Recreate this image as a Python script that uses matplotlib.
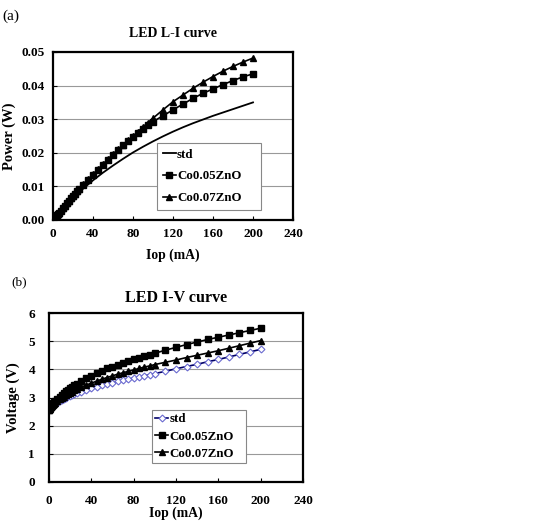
import matplotlib
matplotlib.use("Agg")
import matplotlib.pyplot as plt

plt.rcParams['font.family'] = ['Liberation Serif', 'DejaVu Serif']
plt.rcParams['font.weight'] = 'bold'

# currents (mA) for marked series
iop = [0, 1, 2, 3, 4, 5, 6, 8, 10, 12, 14, 16, 18, 20, 22, 24, 26, 30, 35, 40,
       45, 50, 55, 60, 65, 70, 75, 80, 85, 90, 95, 100, 110, 120, 130, 140,
       150, 160, 170, 180, 190, 200]

# (a) L-I data, power (W)
li_std_iop = [0, 10, 20, 30, 40, 50, 60, 70, 80, 90, 100, 110, 120, 130, 140,
              150, 160, 170, 180, 190, 200]
li_std = [0, 0.0034, 0.0065, 0.0093, 0.0118, 0.0141, 0.0162, 0.0182, 0.0201,
          0.0218, 0.0234, 0.0249, 0.0263, 0.0276, 0.0288, 0.0299, 0.0310,
          0.0320, 0.0330, 0.0340, 0.0350]
li_co005 = [0, 0.0003, 0.0007, 0.0010, 0.0014, 0.0018, 0.0021, 0.0028, 0.0036,
            0.0043, 0.0050, 0.0057, 0.0064, 0.0071, 0.0078, 0.0085, 0.0091,
            0.0105, 0.0120, 0.0135, 0.0150, 0.0165, 0.0180, 0.0194, 0.0208,
            0.0222, 0.0235, 0.0248, 0.0260, 0.0272, 0.0283, 0.0293, 0.0310,
            0.0328, 0.0345, 0.0362, 0.0377, 0.0390, 0.0403, 0.0415, 0.0426,
            0.0435]
li_co007 = [0, 0.0003, 0.0007, 0.0011, 0.0014, 0.0018, 0.0022, 0.0029, 0.0036,
            0.0043, 0.0050, 0.0057, 0.0064, 0.0071, 0.0078, 0.0085, 0.0092,
            0.0106, 0.0121, 0.0136, 0.0151, 0.0166, 0.0181, 0.0196, 0.0210,
            0.0224, 0.0237, 0.0250, 0.0263, 0.0277, 0.0290, 0.0303, 0.0328,
            0.0352, 0.0372, 0.0392, 0.0410, 0.0427, 0.0443, 0.0457, 0.0470,
            0.0482]

# (b) I-V data, voltage (V)
iv_std = [2.55, 2.59, 2.63, 2.67, 2.70, 2.73, 2.76, 2.82, 2.87, 2.92, 2.96,
          3.00, 3.04, 3.07, 3.10, 3.13, 3.16, 3.21, 3.27, 3.33, 3.38, 3.43,
          3.48, 3.52, 3.57, 3.61, 3.65, 3.69, 3.73, 3.77, 3.81, 3.85, 3.93,
          4.02, 4.10, 4.18, 4.27, 4.35, 4.44, 4.53, 4.62, 4.71]
iv_co005 = [2.55, 2.62, 2.68, 2.74, 2.79, 2.84, 2.88, 2.96, 3.03, 3.10, 3.16,
            3.22, 3.28, 3.33, 3.38, 3.43, 3.48, 3.58, 3.68, 3.78, 3.87, 3.95,
            4.03, 4.10, 4.17, 4.24, 4.30, 4.36, 4.42, 4.47, 4.52, 4.57, 4.68,
            4.78, 4.88, 4.97, 5.06, 5.14, 5.22, 5.30, 5.38, 5.46]
iv_co007 = [2.55, 2.60, 2.65, 2.69, 2.73, 2.77, 2.80, 2.87, 2.93, 2.98, 3.03,
            3.08, 3.13, 3.17, 3.21, 3.25, 3.29, 3.36, 3.44, 3.51, 3.58, 3.65,
            3.71, 3.77, 3.83, 3.88, 3.93, 3.98, 4.03, 4.08, 4.12, 4.17, 4.25,
            4.33, 4.42, 4.50, 4.58, 4.66, 4.75, 4.84, 4.93, 5.02]

xticks = [0, 40, 80, 120, 160, 200, 240]


def style_axes(ax, yticks, yfmt, xpad, ypad, size):
    ax.set_xlim(0, 240)
    ax.set_xticks(xticks)
    ax.set_ylim(yticks[0], yticks[-1])
    ax.set_yticks(yticks)
    ax.set_yticklabels([yfmt.format(v) for v in yticks])
    ax.yaxis.grid(True, color='#999999', lw=0.8)
    ax.set_axisbelow(True)
    for s in ax.spines.values():
        s.set_linewidth(1.6)
    ax.tick_params(direction='in', length=3, width=0.8, labelsize=size)
    ax.tick_params(axis='x', pad=xpad)
    ax.tick_params(axis='y', pad=ypad)
    for lab in ax.get_xticklabels() + ax.get_yticklabels():
        lab.set_fontweight('bold')


fig = plt.figure(figsize=(5.56, 5.21), dpi=100)

# (a) L-I curve
ax1 = fig.add_axes([53 / 556, 301 / 521, 240 / 556, 168 / 521])
ax1.plot(li_std_iop, li_std, color='black', lw=1.3, label='std')
ax1.plot(iop, li_co005, color='black', lw=1.2, marker='s', ms=4.2,
         label='Co0.05ZnO')
ax1.plot(iop, li_co007, color='black', lw=1.2, marker='^', ms=4.8,
         label='Co0.07ZnO')
style_axes(ax1, [0, 0.01, 0.02, 0.03, 0.04, 0.05], '{:.2f}', 6, 6, 9.5)
ax1.set_xlabel('Iop (mA)', fontsize=9.8, fontweight='bold', labelpad=6)
ax1.set_ylabel('Power (W)', fontsize=10.5, fontweight='bold', labelpad=4)
ax1.set_title('LED L-I curve', fontsize=10, fontweight='bold', pad=11)
leg1 = ax1.legend(loc='lower left',
                  bbox_to_anchor=(104 / 240, 10 / 168, 104 / 240, 65 / 168),
                  mode='expand', borderaxespad=0, fontsize=9.3,
                  handlelength=1.0, handletextpad=0.1, borderpad=0.45,
                  labelspacing=0.75, fancybox=False, edgecolor='#888888',
                  framealpha=1)
leg1.get_frame().set_linewidth(0.8)

# (b) I-V curve
ax2 = fig.add_axes([49 / 556, 39 / 521, 254 / 556, 169 / 521])
ax2.plot(iop, iv_std, color='#000066', lw=1.2, marker='D', ms=3.5,
         mfc='white', mec='#6a6ad0', mew=0.8, label='std')
ax2.plot(iop, iv_co005, color='black', lw=1.2, marker='s', ms=4.5,
         label='Co0.05ZnO')
ax2.plot(iop, iv_co007, color='black', lw=1.2, marker='^', ms=4.8,
         label='Co0.07ZnO')
style_axes(ax2, [0, 1, 2, 3, 4, 5, 6], '{:d}', 9, 10, 9.5)
ax2.set_xlabel('Iop (mA)', fontsize=9.8, fontweight='bold', labelpad=0)
ax2.set_ylabel('Voltage (V)', fontsize=10.5, fontweight='bold', labelpad=6)
ax2.set_title('LED I-V curve', fontsize=11.5, fontweight='bold', pad=8)
leg2 = ax2.legend(loc='lower left',
                  bbox_to_anchor=(103 / 254, 19 / 169, 94 / 254, 54 / 169),
                  mode='expand', borderaxespad=0, fontsize=9.3,
                  handlelength=1.0, handletextpad=0.1, borderpad=0.25,
                  labelspacing=0.4, fancybox=False, edgecolor='#888888',
                  framealpha=1)
leg2.get_frame().set_linewidth(0.8)

fig.text(2 / 556, 1 - 16 / 521, '(a)', fontsize=11, fontweight='normal',
         va='center')
fig.text(11 / 556, 1 - 282 / 521, '(b)', fontsize=9.5, fontweight='normal',
         va='center')

fig.savefig('out.png', dpi=100)
